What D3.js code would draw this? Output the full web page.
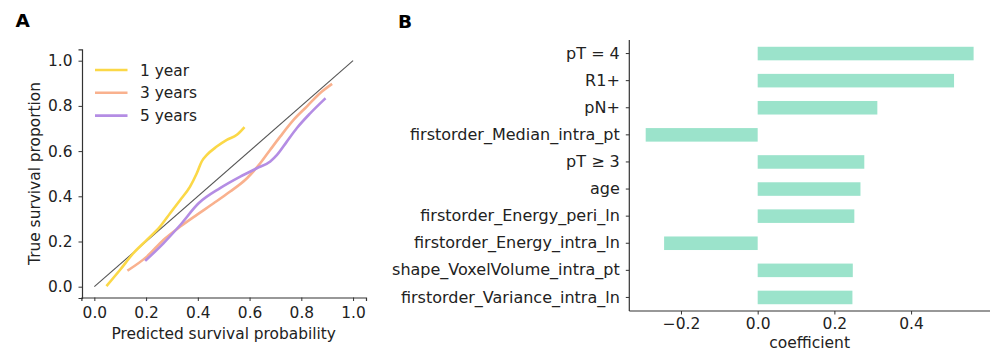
<!DOCTYPE html>
<html>
<head>
<meta charset="utf-8">
<script src="https://cdn.jsdelivr.net/npm/d3@7"></script>
<style>
  body { margin: 0; background: #fff; }
  svg { display: block; font-family: "DejaVu Sans", sans-serif; }
</style>
</head>
<body>
<svg id="chart" width="994" height="351"></svg>
<script>
// calibration curves (panel A)
var year1_x = [0.050, 0.099, 0.151, 0.203, 0.254, 0.293, 0.332, 0.370, 0.396, 0.415, 0.435, 0.473, 0.512, 0.551, 0.577];
var year1_y = [0.007, 0.074, 0.148, 0.207, 0.266, 0.325, 0.384, 0.443, 0.502, 0.554, 0.583, 0.620, 0.650, 0.672, 0.702];
var year3_x = [0.132, 0.203, 0.267, 0.332, 0.396, 0.461, 0.525, 0.590, 0.641, 0.680, 0.719, 0.770, 0.822, 0.873, 0.915];
var year3_y = [0.074, 0.133, 0.207, 0.266, 0.318, 0.369, 0.421, 0.480, 0.546, 0.606, 0.665, 0.738, 0.798, 0.857, 0.894];
var year5_x = [0.200, 0.267, 0.332, 0.403, 0.486, 0.564, 0.628, 0.680, 0.706, 0.744, 0.783, 0.835, 0.890];
var year5_y = [0.118, 0.192, 0.273, 0.369, 0.436, 0.487, 0.524, 0.554, 0.583, 0.642, 0.702, 0.768, 0.830];
var seriesNames = ["1 year", "3 years", "5 years"];
var seriesColors = ["#fbd847", "#f9b18e", "#b48de4"];
var calTicks = [0, 0.2, 0.4, 0.6, 0.8, 1.0];

// coefficients (panel B)
var features = ["pT = 4", "R1+", "pN+", "firstorder_Median_intra_pt", "pT \u2265 3", "age",
  "firstorder_Energy_peri_ln", "firstorder_Energy_intra_ln", "shape_VoxelVolume_intra_pt", "firstorder_Variance_intra_ln"];
var coefs = [0.563, 0.512, 0.312, -0.292, 0.278, 0.268, 0.252, -0.244, 0.248, 0.247];
var coefTicks = [-0.2, 0.0, 0.2, 0.4];

var svg = d3.select("#chart");
var axisColor = "#333";

function styleAxis(g, fs) {
    g.select(".domain").attr("stroke", axisColor).attr("stroke-width", 1.2);
    g.selectAll(".tick line").attr("stroke", axisColor).attr("stroke-width", 1);
    g.selectAll(".tick text").attr("fill", "#222").attr("font-size", fs)
        .attr("font-family", "DejaVu Sans, sans-serif");
}

// ---------- panel A ----------
var x = d3.scaleLinear().domain([-0.05, 1.05]).range([81.4, 366]);
var y = d3.scaleLinear().domain([-0.05, 1.05]).range([298, 49.4]);

var gA = svg.append("g");
var xAxisA = gA.append("g").attr("transform", "translate(0,297.5)")
    .call(d3.axisBottom(x).tickValues(calTicks).tickFormat(d3.format(".1f")).tickSizeOuter(0).tickSize(3.5).tickPadding(6));
styleAxis(xAxisA, 15.4);
var yAxisA = gA.append("g").attr("transform", "translate(82,0)")
    .call(d3.axisLeft(y).tickValues(calTicks).tickFormat(d3.format(".1f")).tickSizeOuter(0).tickSize(3.5).tickPadding(6));
styleAxis(yAxisA, 15.4);

// perfect calibration
gA.append("line")
    .attr("x1", x(0)).attr("y1", y(0)).attr("x2", x(1)).attr("y2", y(1))
    .attr("stroke", "#555").attr("stroke-width", 1.1);

var line = d3.line()
    .x(function(d) { return x(d[0]); })
    .y(function(d) { return y(d[1]); })
    .curve(d3.curveMonotoneX);

var calSeries = [d3.zip(year1_x, year1_y), d3.zip(year3_x, year3_y), d3.zip(year5_x, year5_y)];
for (var i = 0; i < calSeries.length; i++) {
    gA.append("path").datum(calSeries[i])
        .attr("d", line)
        .attr("fill", "none")
        .attr("stroke", seriesColors[i])
        .attr("stroke-width", 2.6)
        .attr("stroke-linecap", "square");
}

// legend
var legend = gA.append("g");
seriesNames.forEach(function(name, i) {
    var ly = 70 + i * 22.8;
    legend.append("line").attr("x1", 95).attr("x2", 127.5).attr("y1", ly).attr("y2", ly)
        .attr("stroke", seriesColors[i]).attr("stroke-width", 2.6);
    legend.append("text").attr("x", 140).attr("y", ly).attr("dy", "0.36em")
        .attr("font-size", 15.4).attr("fill", "#222").text(name);
});

gA.append("text").attr("x", 223.7).attr("y", 338.5).attr("text-anchor", "middle")
    .attr("font-size", 15.4).attr("fill", "#222").text("Predicted survival probability");
gA.append("text").attr("transform", "translate(40,173.5) rotate(-90)").attr("text-anchor", "middle")
    .attr("font-size", 15.4).attr("fill", "#222").text("True survival proportion");

svg.append("text").attr("x", 15.5).attr("y", 27).attr("font-size", 18.5).attr("font-weight", "bold")
    .attr("fill", "#000").text("A");

// ---------- panel B ----------
var cmin = d3.min(coefs), cmax = d3.max(coefs), span = cmax - cmin;
var xb = d3.scaleLinear().domain([cmin - 0.05 * span, cmax + 0.05 * span]).range([629.3, 990]);
var yb = d3.scaleBand().domain(features).range([40, 311]).paddingInner(0.5).paddingOuter(0.25);

var gB = svg.append("g");
gB.selectAll("rect.bar").data(features).enter().append("rect")
    .attr("class", "bar")
    .attr("x", function(d, i) { return xb(Math.min(0, coefs[i])); })
    .attr("width", function(d, i) { return Math.abs(xb(coefs[i]) - xb(0)); })
    .attr("y", function(d) { return yb(d); })
    .attr("height", yb.bandwidth())
    .attr("fill", "#9be3cb");

var xAxisB = gB.append("g").attr("transform", "translate(0,311)")
    .call(d3.axisBottom(xb).tickValues(coefTicks).tickFormat(d3.format(".1f")).tickSizeOuter(0).tickSize(3.5).tickPadding(3.5));
styleAxis(xAxisB, 15.5);
var yAxisB = gB.append("g").attr("transform", "translate(629.3,0)")
    .call(d3.axisLeft(yb).tickSizeOuter(0).tickSize(3.5).tickPadding(6));
styleAxis(yAxisB, 16);
// axis spans the whole band range
yAxisB.select(".domain").attr("d", "M0,40V311");
xAxisB.select(".domain").attr("d", "M629.3,0H990");

gB.append("text").attr("x", 809.6).attr("y", 347.5).attr("text-anchor", "middle")
    .attr("font-size", 15.5).attr("fill", "#222").text("coefficient");

svg.append("text").attr("x", 398).attr("y", 28).attr("font-size", 18.5).attr("font-weight", "bold")
    .attr("fill", "#000").text("B");
</script>
</body>
</html>
